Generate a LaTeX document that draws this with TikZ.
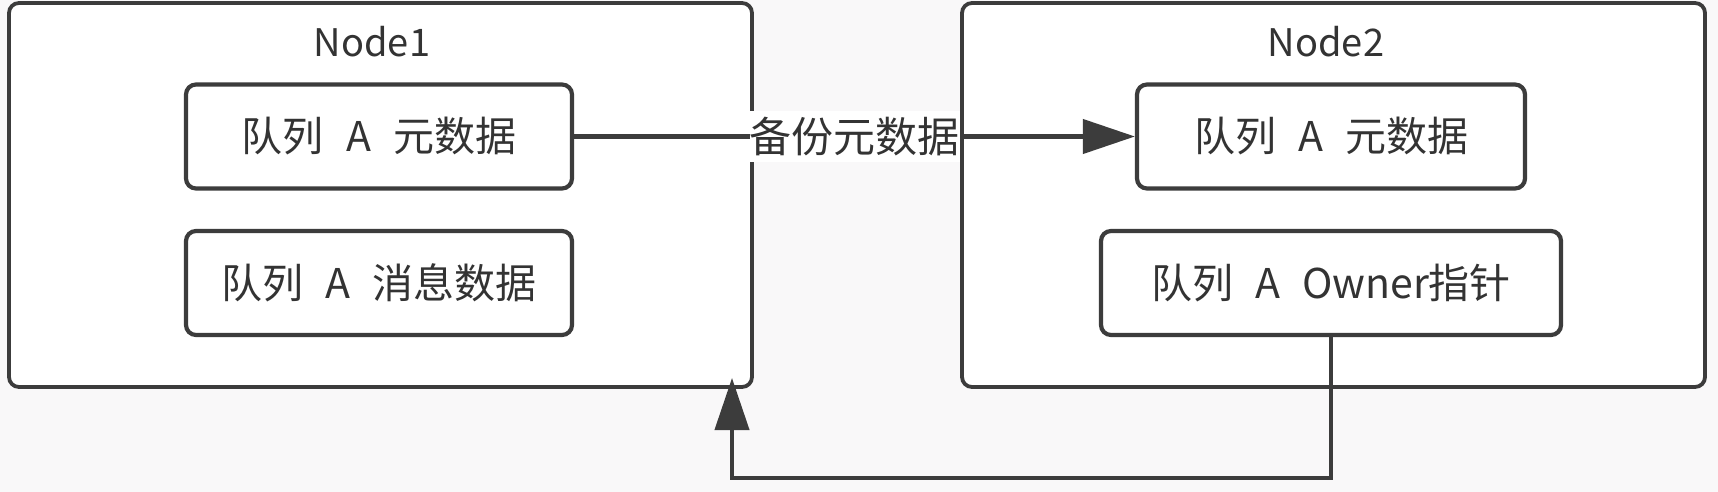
\documentclass[tikz,border=0pt]{standalone}
\usepackage{fontspec}
\setmainfont{Noto Sans CJK SC}[WordSpace=2.4]
\usetikzlibrary{arrows.meta}

\definecolor{linecolor}{rgb}{0.235, 0.235, 0.235}
\definecolor{textcolor}{rgb}{0.200, 0.200, 0.200}
\definecolor{bgcolor}{rgb}{0.976, 0.972, 0.976}

\tikzset{
  outerbox/.style={draw=linecolor, line width=1.9pt, fill=white, rounded corners=5pt,
    minimum width=371.5pt, minimum height=192pt, inner sep=0pt},
  innerbox/.style={draw=linecolor, line width=2.1pt, fill=white, rounded corners=5pt,
    minimum height=52pt, inner sep=0pt, text=textcolor, font=\fontsize{20.5}{24}\selectfont},
  title/.style={text=textcolor, font=\fontsize{19}{22}\selectfont},
  flowarrow/.style={draw=linecolor, line width=2.1pt,
    -{Triangle[length=26pt, width=17pt]}},
  edgelabel/.style={fill=white, inner xsep=0pt, inner ysep=3pt, text=textcolor,
    font=\fontsize{21}{24}\selectfont}
}

\begin{document}
\begin{tikzpicture}[x=0.5pt, y=-0.5pt]
\fill[bgcolor] (0,0) rectangle (1718,492);
\useasboundingbox (0,0) rectangle (1718,492);

% the two machines
\node[outerbox] (node1) at (380.5,195) {};
\node[outerbox] (node2) at (1333.5,195) {};
\node[title] (title1) at (372,42) {Node1};
\node[title] (title2) at (1326,42) {Node2};

% queue data
\node[innerbox, minimum width=193pt] (meta1) at (379,136.5) {队列 A 元数据};
\node[innerbox, minimum width=193pt] (msg1) at (379,283) {队列 A 消息数据};
\node[innerbox, minimum width=194pt] (meta2) at (1331,136.5) {队列 A 元数据};
\node[innerbox, minimum width=230pt] (owner2) at (1331,283) {队列 A Owner指针};

% backup and owner pointer
\draw[flowarrow] (meta1.east) -- node[edgelabel] (backup) {备份元数据} (meta2.west);
\coordinate (back) at (732,378);
\draw[flowarrow] (owner2.south) -- ++(0,141) -| (back);
\end{tikzpicture}
\end{document}
